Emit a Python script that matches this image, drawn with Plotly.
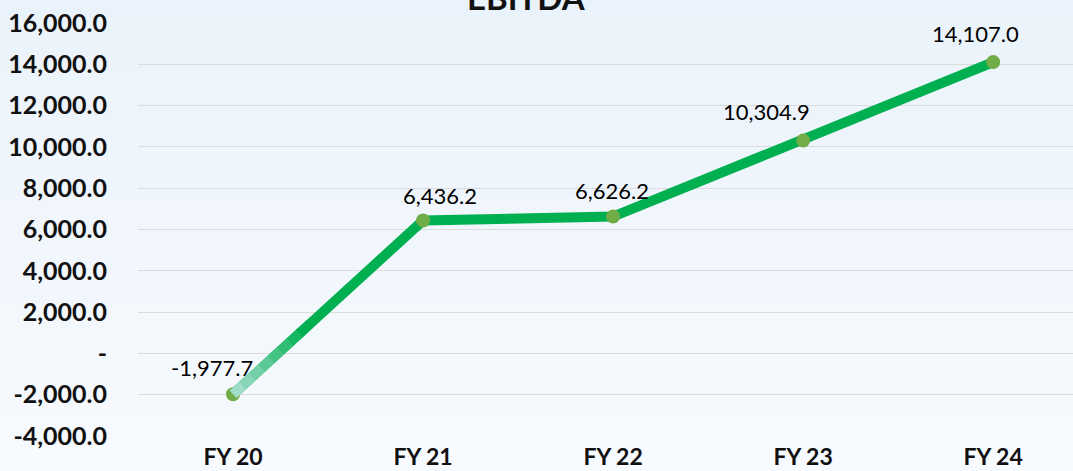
import plotly.graph_objects as go

categories = ["FY 20", "FY 21", "FY 22", "FY 23", "FY 24"]
ebitda = [-1977.7, 6436.2, 6626.2, 10304.9, 14107.0]
labels = ["-1,977.7", "6,436.2", "6,626.2", "10,304.9", "14,107.0"]
ytick_vals = [-4000, -2000, 0, 2000, 4000, 6000, 8000, 10000, 12000, 14000, 16000]
ytick_text = ["-4,000.0", "-2,000.0", "-", "2,000.0", "4,000.0", "6,000.0",
              "8,000.0", "10,000.0", "12,000.0", "14,000.0", "16,000.0"]

# label offsets in pixels (style only)
label_dx = [-21, 17, -1, -37, -18]
label_dy = [27, 25, 26, 29, 29]

fig = go.Figure()

# background gradient
n = 30
top = (234, 242, 251)
bot = (248, 251, 254)
for i in range(n):
    t = i / (n - 1)
    c = tuple(int(round(top[k] + (bot[k] - top[k]) * t)) for k in range(3))
    fig.add_shape(type="rect", xref="paper", yref="paper",
                  x0=-0.2, x1=1.2, y0=1.1 - (i + 1) * 1.3 / n, y1=1.1 - i * 1.3 / n,
                  fillcolor="rgb(%d,%d,%d)" % c, line_width=0, layer="below")

fig.add_trace(go.Scatter(
    x=categories, y=ebitda, mode="lines",
    line=dict(color="#00B050", width=10),
    hoverinfo="skip", showlegend=False))

# faded start of the first segment (gradient)
steps = 8
fade_len = 0.4
c0 = (160, 220, 200)
c1 = (0, 176, 80)
for s in range(steps):
    f0 = fade_len * s / steps
    f1 = fade_len * (s + 1) / steps
    t = s / (steps - 1)
    col = tuple(int(round(c0[k] + (c1[k] - c0[k]) * t)) for k in range(3))
    fig.add_trace(go.Scatter(
        x=[f0, f1 + 0.005],
        y=[ebitda[0] + (ebitda[1] - ebitda[0]) * f0, ebitda[0] + (ebitda[1] - ebitda[0]) * (f1 + 0.005)],
        xaxis="x2", mode="lines",
        line=dict(color="rgb(%d,%d,%d)" % col, width=10),
        hoverinfo="skip", showlegend=False))

fig.add_trace(go.Scatter(
    x=categories, y=ebitda, mode="markers",
    marker=dict(color="#70AD47", size=14),
    showlegend=False))

for i, (c, v, lab) in enumerate(zip(categories, ebitda, labels)):
    fig.add_annotation(x=c, y=v, text=lab, showarrow=False,
                       xshift=label_dx[i], yshift=label_dy[i],
                       font=dict(family="Lato", size=22, color="#000000"))

fig.add_annotation(x=0.415, y=1, xref="paper", yref="paper", text="<b>EBITDA</b>",
                   showarrow=False, yanchor="bottom", yshift=4,
                   font=dict(family="Lato", size=33, color="#111111"))

fig.update_layout(
    width=1073, height=471,
    margin=dict(l=138, r=0, t=23, b=35),
    paper_bgcolor="#F1F6FC", plot_bgcolor="rgba(0,0,0,0)",
    xaxis=dict(type="category", range=[-0.5, 4.42], showgrid=False, zeroline=False,
               showline=False, ticks="", automargin=False, ticklabelstandoff=5,
               tickfont=dict(family="Lato", size=23, color="#111111"),
               tickprefix="<b>", ticksuffix="</b>"),
    xaxis2=dict(overlaying="x", range=[-0.5, 4.42], visible=False),
    yaxis=dict(range=[-4000, 16000], tickvals=ytick_vals, ticktext=["<b>%s</b>" % t for t in ytick_text],
               showgrid=True, gridcolor="#DCDCDC", gridwidth=1, zeroline=False,
               showline=False, ticks="", ticklabelstandoff=30, automargin=False,
               tickfont=dict(family="Lato", size=25, color="#111111")),
)

fig.write_html("out.html", config={"displayModeBar": False},
               post_script="document.body.style.margin='0';document.body.style.overflow='hidden';")
